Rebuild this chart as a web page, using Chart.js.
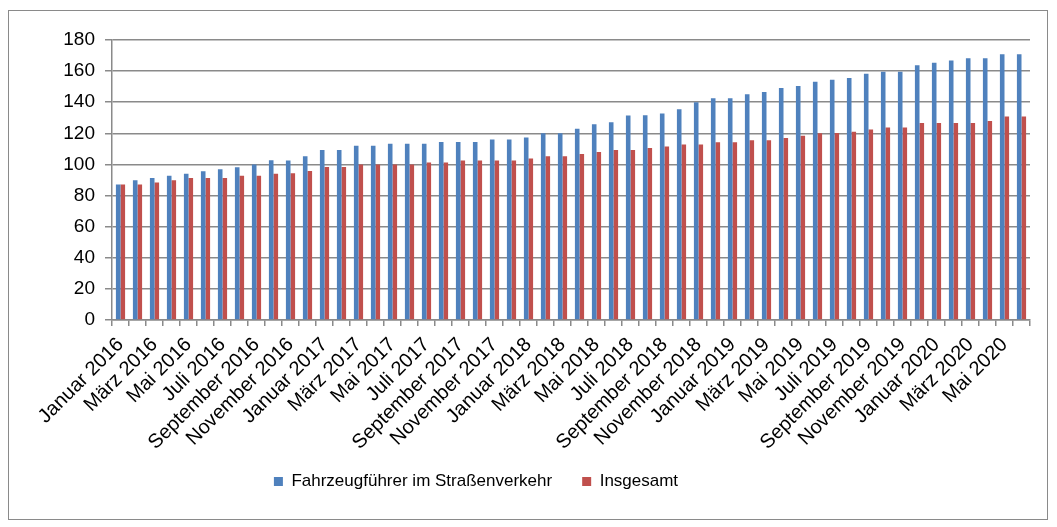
<!DOCTYPE html>
<html>
<head>
<meta charset="utf-8">
<script src="https://cdn.jsdelivr.net/npm/chart.js@4.4.1/dist/chart.umd.min.js"></script>
<style>
  html, body { margin: 0; padding: 0; background: #fff; }
  #wrap { position: relative; width: 1057px; height: 527px; }
  #frame { position: absolute; left: 8px; top: 10px; width: 1040px; height: 510px; border: 1.5px solid #8a8a8a; box-sizing: border-box; pointer-events: none; }
  canvas { position: absolute; left: 0; top: 0; }
</style>
</head>
<body>
<div id="wrap">
  <canvas id="c" width="1057" height="527"></canvas>
  <div id="frame"></div>
</div>
<script>
const monthNames = ["Januar", "Februar", "März", "April", "Mai", "Juni", "Juli", "August", "September", "Oktober", "November", "Dezember"];
const years = [2016, 2017, 2018, 2019, 2020];
const categories = [];
for (const y of years) {
  for (const m of monthNames) {
    if (categories.length < 54) categories.push(m + " " + y);
  }
}

const fahrzeugfuehrer = [
  87.1, 89.8, 91.3, 92.7, 94.0, 95.6, 96.9, 98.2, 100.0, 102.7, 102.6, 105.3,
  109.3, 109.3, 112.0, 112.0, 113.3, 113.3, 113.3, 114.5, 114.5, 114.5, 116.0, 116.0,
  117.3, 120.0, 120.0, 122.9, 125.8, 127.1, 131.5, 131.6, 132.8, 135.5, 140.0, 142.5,
  142.5, 145.2, 146.6, 149.1, 150.5, 153.2, 154.4, 155.6, 158.3, 159.6, 159.6, 163.8,
  165.3, 166.9, 168.2, 168.2, 170.9, 170.9
];
const insgesamt = [
  87.1, 87.1, 88.4, 89.8, 91.3, 91.3, 91.3, 92.7, 92.7, 94.0, 94.3, 95.8,
  98.3, 98.3, 100.0, 100.0, 100.0, 100.0, 101.3, 101.3, 102.5, 102.5, 102.5, 102.5,
  103.8, 105.3, 105.3, 106.7, 108.0, 109.3, 109.3, 110.6, 111.5, 112.8, 112.8, 114.3,
  114.3, 115.6, 115.6, 117.0, 118.5, 120.0, 120.2, 121.0, 122.4, 123.8, 123.8, 126.7,
  126.7, 126.7, 126.7, 128.0, 130.9, 130.9
];
const seriesNames = ["Fahrzeugführer im Straßenverkehr", "Insgesamt"];
const yTicks = [0, 20, 40, 60, 80, 100, 120, 140, 160, 180];

const FONT = "'Liberation Sans', Arial, sans-serif";
const GRID = "#8a8a8a";

const legendShift = {
  id: "legendShift",
  afterLayout(chart) {
    const lg = chart.legend;
    if (lg) {
      lg.top -= 12; lg.bottom -= 12;
      lg.left -= 39; lg.right -= 39;
    }
  }
};

new Chart(document.getElementById("c"), {
  type: "bar",
  data: {
    labels: categories,
    datasets: [
      { label: seriesNames[0], data: fahrzeugfuehrer, backgroundColor: "#4F81BD", borderWidth: 0,
        categoryPercentage: 0.54, barPercentage: 1.0 },
      { label: seriesNames[1], data: insgesamt, backgroundColor: "#C0504D", borderWidth: 0,
        categoryPercentage: 0.54, barPercentage: 1.0 }
    ]
  },
  plugins: [legendShift],
  options: {
    responsive: false,
    animation: false,
    devicePixelRatio: 1,
    layout: { padding: { left: 0, right: 27, top: 40, bottom: 15 } },
    plugins: {
      tooltip: { enabled: false },
      legend: {
        position: "bottom",
        labels: {
          boxWidth: 9, boxHeight: 9, padding: 30,
          color: "#000",
          font: { family: FONT, size: 17 }
        }
      }
    },
    scales: {
      x: {
        afterFit: (s) => { s.height = 135; },
        border: { display: true, color: GRID, width: 1.5 },
        grid: { display: true, drawOnChartArea: false, drawTicks: true, tickLength: 6, color: GRID, lineWidth: 1.5, offset: true },
        ticks: {
          autoSkip: false, minRotation: 45, maxRotation: 45, padding: 7,
          color: "#000", font: { family: FONT, size: 20 },
          callback: function (v, i) { return i % 2 === 0 ? categories[i] : ""; }
        }
      },
      y: {
        min: 0, max: 180,
        afterFit: (s) => { s.width = 112; },
        afterBuildTicks: (s) => { s.ticks = yTicks.map(v => ({ value: v })); },
        border: { display: true, color: GRID, width: 1.5 },
        grid: { color: GRID, lineWidth: 1.5, tickLength: 7, drawTicks: true },
        ticks: { padding: 10, color: "#000", font: { family: FONT, size: 19 } }
      }
    }
  }
});
</script>
</body>
</html>
